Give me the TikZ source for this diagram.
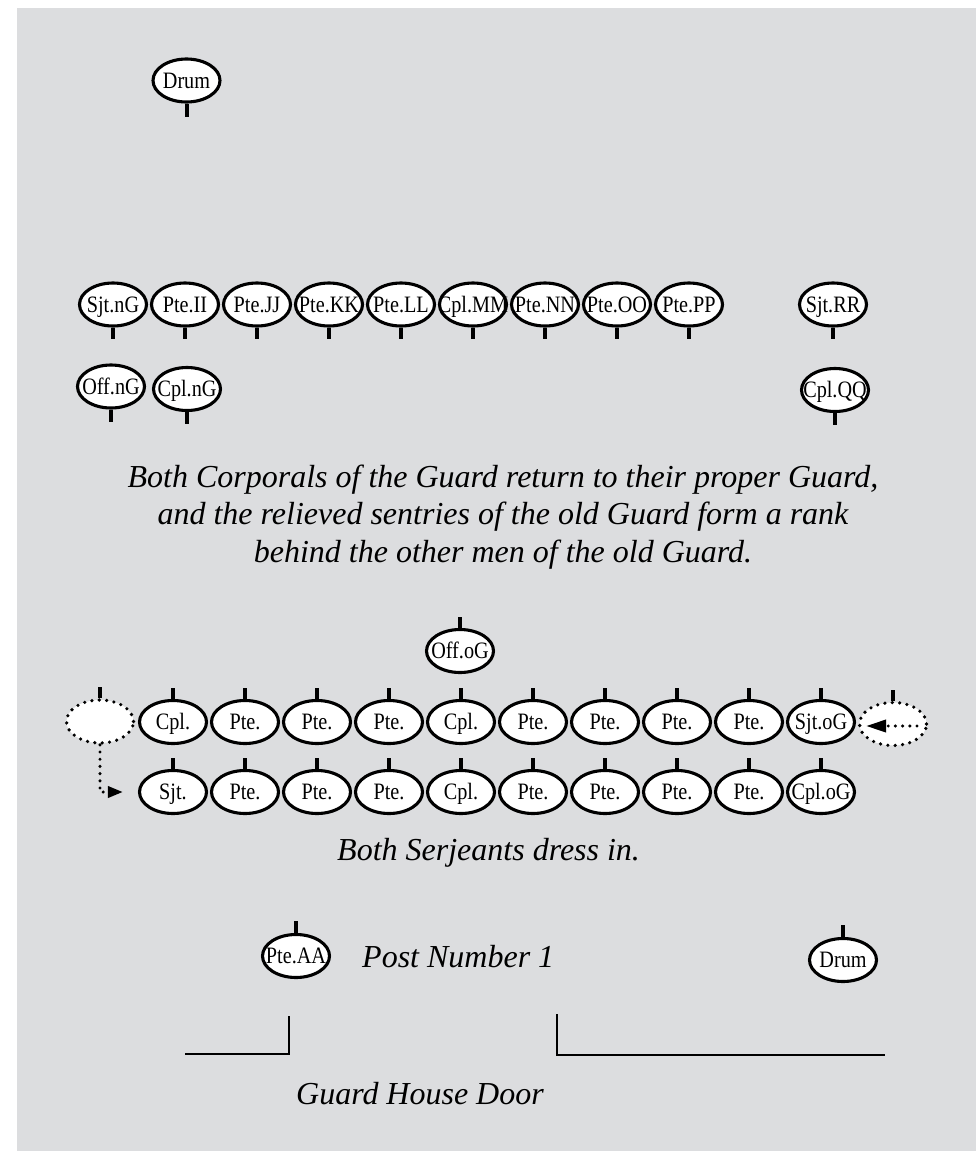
\documentclass[tikz,border=0pt]{standalone}
\usepackage{fontspec}
\setmainfont{Liberation Serif}
\newfontfamily\labelfont[FakeStretch=0.86]{Liberation Serif}
\usetikzlibrary{arrows.meta,calc,shapes.geometric}
\definecolor{bg}{RGB}{220,221,223}
\newcommand\soldier[4]{\node[man] (#1) at (#2,#3) {\makebox[0pt]{#4}};}
\begin{document}
\begin{tikzpicture}[x=1pt,y=-1pt,
  man/.style={ellipse, draw=black, fill=white, line width=3.1pt, minimum width=67pt, minimum height=43pt, inner sep=0pt, text height=15.5pt, text depth=0pt, font=\labelfont\fontsize{23.5}{23.5}\selectfont},
  dotman/.style={ellipse, draw=black, fill=white, line width=3.6pt, dash pattern=on 0pt off 7.4pt, line cap=round, minimum width=67pt, minimum height=43pt, inner sep=0pt},
  stem/.style={line width=4pt},
  dotline/.style={line width=3.4pt, dash pattern=on 0pt off 7.2pt, line cap=round},
  capt/.style={font=\fontsize{32}{37.5}\selectfont\itshape, inner sep=0pt},
  wall/.style={line width=2.6pt}]
\useasboundingbox (0,0) rectangle (976,1151);
\fill[bg] (17,8) rectangle (976,1151);

% top drum
\soldier{drumA}{186.5}{80.5}{Drum}
\draw[stem] (drumA.south) -- ++(0,13);

% new guard front rank
\soldier{n1}{113}{304.5}{Sjt.nG}
\soldier{n2}{185}{304.5}{Pte.II}
\soldier{n3}{257}{304.5}{Pte.JJ}
\soldier{n4}{329}{304.5}{Pte.KK}
\soldier{n5}{401}{304.5}{Pte.LL}
\soldier{n6}{473}{304.5}{Cpl.MM}
\soldier{n7}{545}{304.5}{Pte.NN}
\soldier{n8}{617}{304.5}{Pte.OO}
\soldier{n9}{689}{304.5}{Pte.PP}
\soldier{n10}{833}{304.5}{Sjt.RR}
\foreach \n in {n1,n2,n3,n4,n5,n6,n7,n8,n9,n10}{\draw[stem] (\n.south) -- ++(0,11);}

% new guard second line
\soldier{m1}{111}{386.5}{Off.nG}
\soldier{m2}{187}{389}{Cpl.nG}
\soldier{m3}{835}{390}{Cpl.QQ}
\foreach \n in {m1,m2,m3}{\draw[stem] (\n.south) -- ++(0,12);}

% caption 1
\node[capt, anchor=base] (c1) at (503,487) {Both Corporals of the Guard return to their proper Guard,};
\node[capt, anchor=base] (c2) at (503,524.5) {and the relieved sentries of the old Guard form a rank};
\node[capt, anchor=base] (c3) at (503,562) {behind the other men of the old Guard.};

% old guard officer
\soldier{off}{460}{651}{Off.oG}
\draw[stem] (off.north) -- ++(0,-11);

% old guard front rank
\node[dotman] (ld) at (100,721.5) {};
\soldier{a1}{173}{722}{Cpl.}
\soldier{a2}{245}{722}{Pte.}
\soldier{a3}{317}{722}{Pte.}
\soldier{a4}{389}{722}{Pte.}
\soldier{a5}{461}{722}{Cpl.}
\soldier{a6}{533}{722}{Pte.}
\soldier{a7}{605}{722}{Pte.}
\soldier{a8}{677}{722}{Pte.}
\soldier{a9}{749}{722}{Pte.}
\soldier{a10}{821}{722}{Sjt.oG}
\node[dotman] (rd) at (893,724) {};
\foreach \n in {ld,a1,a2,a3,a4,a5,a6,a7,a8,a9,a10,rd}{\draw[stem] (\n.north) -- ++(0,-11);}

% old guard rear rank
\soldier{b1}{173}{792}{Sjt.}
\soldier{b2}{245}{792}{Pte.}
\soldier{b3}{317}{792}{Pte.}
\soldier{b4}{389}{792}{Pte.}
\soldier{b5}{461}{792}{Cpl.}
\soldier{b6}{533}{792}{Pte.}
\soldier{b7}{605}{792}{Pte.}
\soldier{b8}{677}{792}{Pte.}
\soldier{b9}{749}{792}{Pte.}
\soldier{b10}{821}{792}{Cpl.oG}
\foreach \n in {b1,b2,b3,b4,b5,b6,b7,b8,b9,b10}{\draw[stem] (\n.north) -- ++(0,-11);}

% movement arrows
\coordinate (ra) at (917,726);
\coordinate (rb) at (866,726);
\draw[dotline, -{Triangle[length=20pt,width=12pt]}] (ra) -- (rb);
\draw[dotline, -{Triangle[length=15pt,width=11pt]}] (ld.south) |- ([xshift=-15pt]b1.west);

\node[capt, anchor=base west] (c4) at (337,860) {Both Serjeants dress in.};

% post
\soldier{aa}{296}{956}{Pte.AA}
\draw[stem] (aa.north) -- ++(0,-12);
\node[capt, anchor=base west] (post) at (362,967) {Post Number 1};
\soldier{drumB}{843}{960}{Drum}
\draw[stem] (drumB.north) -- ++(0,-12);

% guard house
\draw[wall] (185,1054) -- (289,1054) -- (289,1016);
\draw[wall] (557,1014) -- (557,1055) -- (885,1055);
\node[capt, anchor=base] (door) at (420,1104) {Guard House Door};
\end{tikzpicture}
\end{document}
